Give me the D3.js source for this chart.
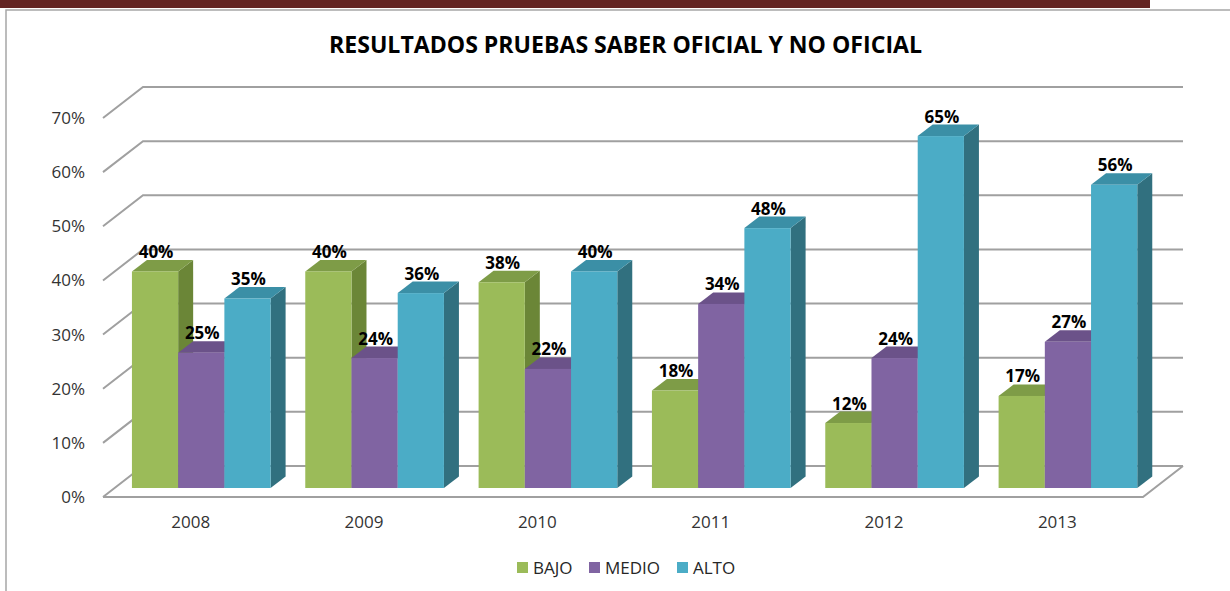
<!DOCTYPE html>
<html><head><meta charset="utf-8">
<script src="https://cdn.jsdelivr.net/npm/d3@7"></script>
<style>body{margin:0;background:#fff}svg{display:block}</style>
</head><body>
<script>
const years = ["2008","2009","2010","2011","2012","2013"];
const seriesNames = ["BAJO","MEDIO","ALTO"];
const bajo  = [40,40,38,18,12,17];
const medio = [25,24,22,34,24,27];
const alto  = [35,36,40,48,65,56];
const yTicks = [0,10,20,30,40,50,60,70];
const title = "RESULTADOS PRUEBAS SABER OFICIAL Y NO OFICIAL";

const values = [bajo, medio, alto];
const colors = {
  BAJO:  {front:"#9BBB59", top:"#7E9C47", side:"#6B8637"},
  MEDIO: {front:"#8064A2", top:"#6B5289", side:"#5E4A7D"},
  ALTO:  {front:"#4BACC6", top:"#3B8FA6", side:"#31707F"}
};

const W=1230,H=591;
const svg=d3.select("body").append("svg").attr("width",W).attr("height",H);
const font="'Open Sans', 'DejaVu Sans', sans-serif";

// header strip and frame
svg.append("rect").attr("x",0).attr("y",0).attr("width",1150).attr("height",8).attr("fill","#632523");
svg.append("path").attr("d","M6,591 L6,10 L1230,10").attr("fill","none").attr("stroke","#a6a6a6").attr("stroke-width",1.5);

// 3D geometry
const frontL=103, frontR=1143, depthX=40, depthY=-31;
const y=d3.scaleLinear().domain([0,70]).range([497,118]);
const x0=d3.scaleBand().domain(years).range([frontL,frontR]).paddingInner(0.2).paddingOuter(0.1);
const x1=d3.scaleBand().domain(seriesNames).range([0,x0.bandwidth()]);
const barDX=11.6, barDY=-9, capDX=15, capDY=-11.5;

// grid
const grid=svg.append("g").attr("stroke","#a0a0a0").attr("stroke-width",2).attr("fill","none");
yTicks.forEach(v=>{
  grid.append("path").attr("d",`M${frontL},${y(v)} L${frontL+depthX},${y(v)+depthY} L${frontR+depthX},${y(v)+depthY}`);
});
grid.append("path").attr("d",`M${frontL},${y(0)} L${frontR},${y(0)} L${frontR+depthX},${y(0)+depthY}`);

// y tick labels
svg.append("g").selectAll("text").data(yTicks).join("text")
  .attr("x",85).attr("y",d=>y(d)+6).attr("text-anchor","end")
  .attr("font-family",font).attr("font-size",17).attr("fill","#333")
  .text(d=>d+"%");

// category labels
svg.append("g").selectAll("text").data(years).join("text")
  .attr("x",d=>x0(d)+x0.bandwidth()/2+1).attr("y",528).attr("text-anchor","middle")
  .attr("font-family",font).attr("font-size",17).attr("fill","#333")
  .text(d=>d);

// bars
const bars=svg.append("g");
const labels=svg.append("g");
years.forEach((yr,i)=>{
  seriesNames.forEach((s,j)=>{
    const v=values[j][i];
    const xl=x0(yr)+x1(s)+barDX, w=x1.bandwidth();
    const yt=y(v)+barDY, yb=y(0)+barDY;
    const c=colors[s];
    bars.append("path").attr("d",`M${xl+w},${yt} L${xl+w+capDX},${yt+capDY} L${xl+w+capDX},${yb+capDY} L${xl+w},${yb} Z`).attr("fill",c.side);
    bars.append("path").attr("d",`M${xl},${yt} L${xl+w},${yt} L${xl+w+capDX},${yt+capDY} L${xl+capDX},${yt+capDY} Z`).attr("fill",c.top);
    bars.append("rect").attr("x",xl).attr("y",yt).attr("width",w).attr("height",yb-yt).attr("fill",c.front);
    labels.append("text").attr("x",xl+w/2+1).attr("y",yt+capDY-2).attr("text-anchor","middle")
      .attr("font-family",font).attr("font-size",17).attr("font-weight","bold").attr("fill","#000")
      .text(v+"%");
  });
});

// title
svg.append("text").attr("x",625.5).attr("y",53).attr("text-anchor","middle")
  .attr("font-family",font).attr("font-size",23).attr("font-weight","bold").attr("fill","#000")
  .attr("textLength",593).attr("lengthAdjust","spacingAndGlyphs")
  .text(title);

// legend
const legendX=[517,589,677];
const lg=svg.append("g");
seriesNames.forEach((s,j)=>{
  lg.append("rect").attr("x",legendX[j]).attr("y",562).attr("width",11).attr("height",11).attr("fill",colors[s].front);
  lg.append("text").attr("x",legendX[j]+16).attr("y",574).attr("font-family",font).attr("font-size",17).attr("fill","#262626").text(s);
});
</script>
</body></html>
